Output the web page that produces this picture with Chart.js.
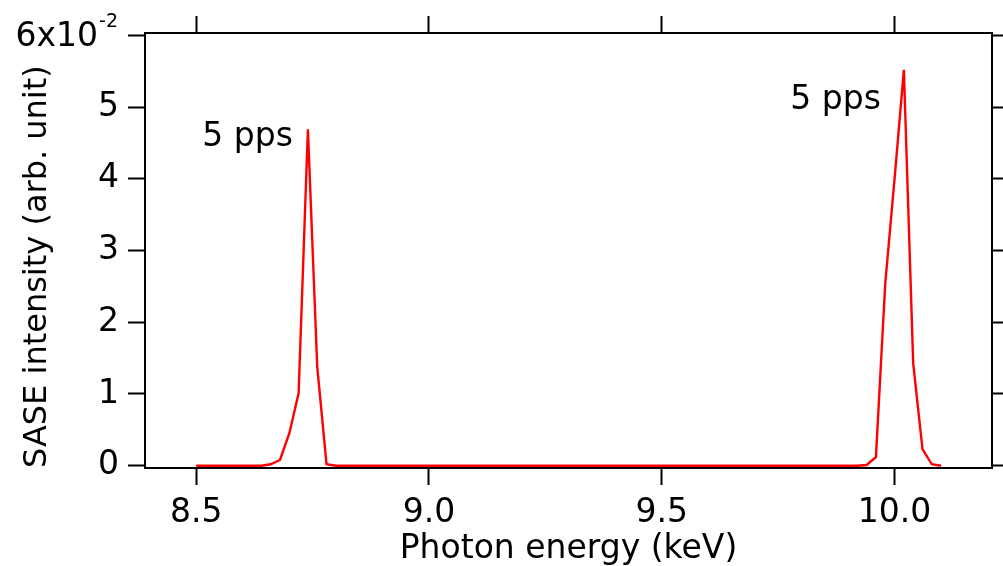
<!DOCTYPE html>
<html><head><meta charset="utf-8">
<script src="https://cdn.jsdelivr.net/npm/chart.js@4.4.1/dist/chart.umd.min.js"></script>
<style>html,body{margin:0;padding:0;background:#fff;overflow:hidden}canvas{display:block}</style>
</head><body>
<canvas id="c" width="1003" height="566"></canvas>
<script>
// ---- data ----
const energies = [
  8.50,8.52,8.54,8.56,8.58,8.60,8.62,8.64,8.66,8.68,
  8.70,8.72,8.74,8.76,8.78,8.80,8.82,8.84,8.86,8.88,
  8.90,8.92,8.94,8.96,8.98,9.00,9.02,9.04,9.06,9.08,
  9.10,9.12,9.14,9.16,9.18,9.20,9.22,9.24,9.26,9.28,
  9.30,9.32,9.34,9.36,9.38,9.40,9.42,9.44,9.46,9.48,
  9.50,9.52,9.54,9.56,9.58,9.60,9.62,9.64,9.66,9.68,
  9.70,9.72,9.74,9.76,9.78,9.80,9.82,9.84,9.86,9.88,
  9.90,9.92,9.94,9.96,9.98,10.00,10.02,10.04,10.06,10.08,
  10.10
];
const intensity = [
  0,0,0,0,0,0,0,0,0.0002,0.0008,
  0.0045,0.0101,0.0469,0.0138,0.0002,0,0,0,0,0,
  0,0,0,0,0,0,0,0,0,0,
  0,0,0,0,0,0,0,0,0,0,
  0,0,0,0,0,0,0,0,0,0,
  0,0,0,0,0,0,0,0,0,0,
  0,0,0,0,0,0,0,0,0,0,
  0,0,0.0001,0.0012,0.0254,0.0400,0.0552,0.0143,0.0023,0.0002,
  0
];
const xTickValues = [8.5, 9.0, 9.5, 10.0];
const xTickLabels = ['8.5', '9.0', '9.5', '10.0'];
const yTickValues = [0, 0.01, 0.02, 0.03, 0.04, 0.05, 0.06];
const yTickLabels = ['0', '1', '2', '3', '4', '5', '6x10'];
const yTopExponent = '-2';
const peakLabelTexts = ['5 pps', '5 pps'];
const peakLabelEnergies = [8.74, 10.02];
const xTitle = 'Photon energy (keV)';
const yTitle = 'SASE intensity (arb. unit)';

// ---- styling / layout ----
const FONT = '"DejaVu Sans", sans-serif';
const FS = 33;
const X_MIN = 8.3901, X_MAX = 10.2093;
const Y_MIN = -0.00032, Y_MAX = 0.06033;
const peakLabelOffsets = [{dx: -15, dy: 17}, {dx: -23, dy: 39}];

const gridOpts = {drawOnChartArea: false, drawTicks: true, tickLength: 17, tickWidth: 2, tickColor: '#000', color: '#000'};
const borderOpts = {display: true, color: '#000', width: 2};

const overlay = {
  id: 'overlay',
  afterDraw(chart) {
    const ctx = chart.ctx, xs = chart.scales.x, ys = chart.scales.y;
    ctx.save();
    ctx.fillStyle = '#000';
    // top y label with superscript exponent
    const yTop = ys.getPixelForValue(yTickValues[yTickValues.length - 1]);
    const main = yTickLabels[yTickLabels.length - 1];
    ctx.font = '19px ' + FONT;
    const supW = ctx.measureText(yTopExponent).width;
    ctx.font = FS + 'px ' + FONT;
    const mainW = ctx.measureText(main).width;
    const right = 118;
    ctx.textAlign = 'left';
    ctx.textBaseline = 'alphabetic';
    ctx.fillText(main, right - supW - mainW - 1, yTop + 11);
    ctx.font = '19px ' + FONT;
    ctx.fillText(yTopExponent, right - supW, yTop - 8);
    // peak annotations
    ctx.font = FS + 'px ' + FONT;
    ctx.textAlign = 'right';
    peakLabelTexts.forEach((t, i) => {
      const e = peakLabelEnergies[i];
      const idx = energies.indexOf(e);
      const px = xs.getPixelForValue(e) + peakLabelOffsets[i].dx;
      const py = ys.getPixelForValue(intensity[idx]) + peakLabelOffsets[i].dy;
      ctx.fillText(t, px, py);
    });
    ctx.restore();
  }
};

new Chart(document.getElementById('c'), {
  type: 'line',
  data: {
    datasets: [{
      data: energies.map((e, i) => ({x: e, y: intensity[i]})),
      borderColor: '#ff0000',
      borderWidth: 2.4,
      pointRadius: 0,
      tension: 0,
      fill: false
    }]
  },
  options: {
    responsive: false,
    animation: false,
    events: [],
    layout: {padding: 0},
    plugins: {legend: {display: false}, tooltip: {enabled: false}},
    scales: {
      x: {
        type: 'linear', position: 'bottom', min: X_MIN, max: X_MAX,
        afterBuildTicks: s => { s.ticks = xTickValues.map(v => ({value: v})); },
        afterFit: s => { s.height = 98; },
        ticks: {color: '#000', font: {family: FONT, size: FS}, padding: 9, maxRotation: 0,
          callback: (v, i) => xTickLabels[i]},
        grid: gridOpts, border: borderOpts,
        title: {display: true, text: xTitle, color: '#000', font: {family: FONT, size: FS, lineHeight: 1.0}, padding: {top: 0, bottom: 0}}
      },
      x2: {
        type: 'linear', position: 'top', min: X_MIN, max: X_MAX,
        afterBuildTicks: s => { s.ticks = xTickValues.map(v => ({value: v})); },
        afterFit: s => { s.height = 33; },
        ticks: {display: false},
        grid: gridOpts, border: borderOpts
      },
      y: {
        type: 'linear', position: 'left', min: Y_MIN, max: Y_MAX,
        afterBuildTicks: s => { s.ticks = yTickValues.map(v => ({value: v})); },
        afterFit: s => { s.width = 145; },
        ticks: {color: '#000', font: {family: FONT, size: FS}, padding: 9,
          callback: (v, i) => (i === yTickLabels.length - 1 ? '' : yTickLabels[i])},
        grid: gridOpts, border: borderOpts,
        title: {display: true, text: yTitle, align: 'start', color: '#000', font: {family: FONT, size: 32, lineHeight: 1.0}, padding: {top: 22, bottom: 0}}
      },
      y2: {
        type: 'linear', position: 'right', min: Y_MIN, max: Y_MAX,
        afterBuildTicks: s => { s.ticks = yTickValues.map(v => ({value: v})); },
        afterFit: s => { s.width = 11; },
        ticks: {display: false},
        grid: gridOpts, border: borderOpts
      }
    }
  },
  plugins: [overlay]
});
</script>
</body></html>
